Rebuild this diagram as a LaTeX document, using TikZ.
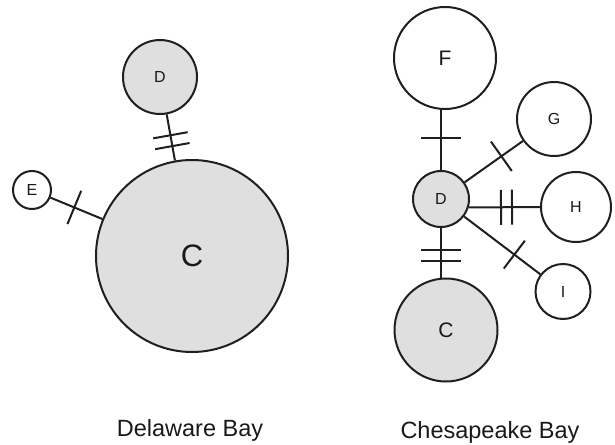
\documentclass[tikz,border=0pt]{standalone}
\usepackage{fontspec}
\setmainfont{Liberation Sans}
\usetikzlibrary{decorations.markings}
\begin{document}
\begin{tikzpicture}[x=1pt,y=-1pt,
  hap/.style={circle, draw=black!88, line width=2pt, inner sep=0pt, text=black!90, fill=white},
  shared/.style={hap, fill=gray!25},
  lbl/.style={font=\fontsize{16}{16}\selectfont},
  big/.style={font=\fontsize{21}{21}\selectfont},
  baylbl/.style={font=\fontsize{23.5}{23.5}\selectfont, text=black!90, anchor=base, inner sep=0pt},
  conn/.style={draw=black!88, line width=2pt},
  onetick/.style 2 args={postaction={decorate, decoration={markings,
      mark=at position #1 with {\draw[conn] (0pt,-#2) -- (0pt,#2);}}}},
  twotick/.style 2 args={postaction={decorate, decoration={markings,
      mark=at position #1 with {\draw[conn] (-5.5pt,-#2) -- (-5.5pt,#2); \draw[conn] (5.5pt,-#2) -- (5.5pt,#2);}}}}
]
\useasboundingbox (0,0) rectangle (615,444);

% Delaware Bay
\node[shared, minimum size=192pt, font=\fontsize{31}{31}\selectfont] (C1) at (192,256) {C};
\node[shared, minimum size=74pt, lbl] (D1) at (160,77) {D};
\node[hap, minimum size=38pt, lbl] (E1) at (32,190) {E};
\draw[conn, twotick={0.57}{17.5pt}] (D1) -- (C1);
\draw[conn, onetick={0.46}{18pt}] (E1) -- (C1);
\node[baylbl] (lab1) at (190,436) {Delaware Bay};

% Chesapeake Bay
\node[hap, minimum size=102pt, big] (F) at (445,58) {F};
\node[shared, minimum size=56pt, lbl] (D2) at (441,199) {D};
\node[hap, minimum size=74pt, lbl] (G) at (554,119) {G};
\node[hap, minimum size=70pt, lbl] (H) at (576,207) {H};
\node[hap, minimum size=55pt, lbl] (I) at (563,291.5) {I};
\node[shared, minimum size=103pt, big] (C2) at (446,330) {C};
\draw[conn, onetick={0.53}{20pt}] (D2.north) -- (D2.north |- F.south);
\draw[conn, onetick={0.63}{18pt}] (D2) -- (G);
\draw[conn, twotick={0.53}{17.5pt}] (D2.-17) -- (H.west);
\draw[conn, onetick={0.66}{17.5pt}] (D2) -- (I);
\draw[conn, twotick={0.55}{20pt}] (D2.south) -- (D2.south |- C2.north);
\node[baylbl] (lab2) at (490,438) {Chesapeake Bay};
\end{tikzpicture}
\end{document}
